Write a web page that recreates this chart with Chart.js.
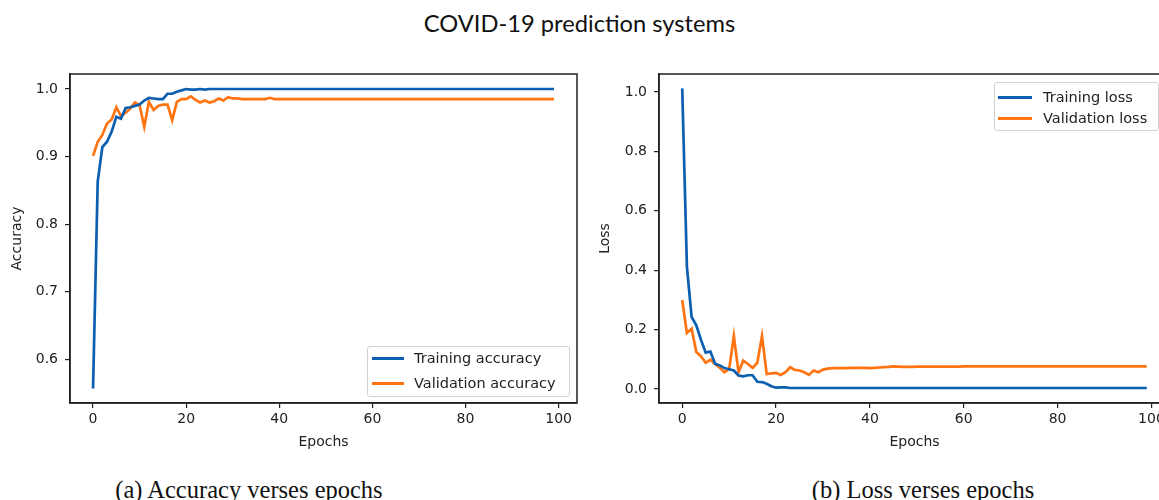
<!DOCTYPE html>
<html>
<head>
<meta charset="utf-8">
<title>COVID-19 prediction systems</title>
<script src="https://cdn.jsdelivr.net/npm/chart.js@4.4.1/dist/chart.umd.min.js"></script>
<style>
  html, body { margin: 0; padding: 0; background: #fff; overflow: hidden; }
  #page { position: relative; width: 1159px; height: 500px; overflow: hidden; }
  .title { position: absolute; left: 0; top: 9px; width: 1159px; text-align: center;
           font-family: Lato, "DejaVu Sans", sans-serif; font-size: 23.7px; line-height: 28px; color: #111; }
  .caption { position: absolute; top: 476px; transform: translateX(-50%); white-space: nowrap;
             font-family: "Liberation Serif", serif; font-size: 24.5px; line-height: 28px; color: #111; }
  .plot { position: absolute; top: 0; }
  .legend { position: absolute; box-sizing: border-box; border: 1px solid #d2d2d2; border-radius: 3px;
            background: rgba(255, 255, 255, 0.85); font-family: "DejaVu Sans", sans-serif;
            font-size: 14.5px; color: #222; }
  .legend .row { position: absolute; left: 0; right: 0; height: 18px; line-height: 18px; white-space: nowrap; }
  .legend .swatch { position: absolute; top: 8px; height: 2.6px; }
  .legend .label { position: absolute; top: 0; }
</style>
</head>
<body>
<div id="page">
  <div class="title">COVID-19 prediction systems</div>

  <canvas id="accChart" class="plot" width="600" height="460" style="left:0px"></canvas>
  <canvas id="lossChart" class="plot" width="600" height="460" style="left:590px"></canvas>

  <div id="accLegend" class="legend" style="left:367px; top:346px; width:203px; height:51px"></div>
  <div id="lossLegend" class="legend" style="left:994px; top:82px; width:165px; height:49px"></div>

  <div class="caption" style="left:249px">(a) Accuracy verses epochs</div>
  <div class="caption" style="left:923px">(b) Loss verses epochs</div>
</div>

<script>
// values, one per epoch (0..99)
const trainAcc = [
  0.557, 0.863, 0.914, 0.922, 0.937, 0.959, 0.956, 0.972, 0.973, 0.975,
  0.977, 0.983, 0.987, 0.986, 0.985, 0.985, 0.993, 0.993, 0.996, 0.998,
  1.000, 0.999, 0.999, 1.000, 0.999, 1.000, 1.000, 1.000, 1.000, 1.000,
  1.000, 1.000, 1.000, 1.000, 1.000, 1.000, 1.000, 1.000, 1.000, 1.000,
  1.000, 1.000, 1.000, 1.000, 1.000, 1.000, 1.000, 1.000, 1.000, 1.000,
  1.000, 1.000, 1.000, 1.000, 1.000, 1.000, 1.000, 1.000, 1.000, 1.000,
  1.000, 1.000, 1.000, 1.000, 1.000, 1.000, 1.000, 1.000, 1.000, 1.000,
  1.000, 1.000, 1.000, 1.000, 1.000, 1.000, 1.000, 1.000, 1.000, 1.000,
  1.000, 1.000, 1.000, 1.000, 1.000, 1.000, 1.000, 1.000, 1.000, 1.000,
  1.000, 1.000, 1.000, 1.000, 1.000, 1.000, 1.000, 1.000, 1.000, 1.000
];
const valAcc = [
  0.901, 0.922, 0.932, 0.949, 0.955, 0.973, 0.960, 0.965, 0.971, 0.980,
  0.976, 0.944, 0.981, 0.969, 0.975, 0.977, 0.977, 0.954, 0.981, 0.985,
  0.985, 0.989, 0.984, 0.980, 0.983, 0.980, 0.982, 0.986, 0.983, 0.988,
  0.986, 0.986, 0.985, 0.985, 0.985, 0.985, 0.985, 0.985, 0.987, 0.985,
  0.985, 0.985, 0.985, 0.985, 0.985, 0.985, 0.985, 0.985, 0.985, 0.985,
  0.985, 0.985, 0.985, 0.985, 0.985, 0.985, 0.985, 0.985, 0.985, 0.985,
  0.985, 0.985, 0.985, 0.985, 0.985, 0.985, 0.985, 0.985, 0.985, 0.985,
  0.985, 0.985, 0.985, 0.985, 0.985, 0.985, 0.985, 0.985, 0.985, 0.985,
  0.985, 0.985, 0.985, 0.985, 0.985, 0.985, 0.985, 0.985, 0.985, 0.985,
  0.985, 0.985, 0.985, 0.985, 0.985, 0.985, 0.985, 0.985, 0.985, 0.985
];
const trainLoss = [
  1.012, 0.411, 0.242, 0.214, 0.165, 0.122, 0.126, 0.085, 0.079, 0.070,
  0.066, 0.062, 0.045, 0.042, 0.046, 0.046, 0.024, 0.023, 0.017, 0.009,
  0.004, 0.005, 0.005, 0.003, 0.003, 0.003, 0.003, 0.003, 0.003, 0.003,
  0.003, 0.003, 0.003, 0.003, 0.003, 0.003, 0.003, 0.003, 0.003, 0.003,
  0.003, 0.003, 0.003, 0.003, 0.003, 0.003, 0.003, 0.003, 0.003, 0.003,
  0.003, 0.003, 0.003, 0.003, 0.003, 0.003, 0.003, 0.003, 0.003, 0.003,
  0.003, 0.003, 0.003, 0.003, 0.003, 0.003, 0.003, 0.003, 0.003, 0.003,
  0.003, 0.003, 0.003, 0.003, 0.003, 0.003, 0.003, 0.003, 0.003, 0.003,
  0.003, 0.003, 0.003, 0.003, 0.003, 0.003, 0.003, 0.003, 0.003, 0.003,
  0.003, 0.003, 0.003, 0.003, 0.003, 0.003, 0.003, 0.003, 0.003, 0.003
];
const valLoss = [
  0.299, 0.188, 0.203, 0.124, 0.110, 0.088, 0.098, 0.084, 0.071, 0.056,
  0.067, 0.178, 0.056, 0.095, 0.084, 0.071, 0.088, 0.178, 0.050, 0.052,
  0.054, 0.047, 0.056, 0.073, 0.064, 0.062, 0.056, 0.047, 0.062, 0.056,
  0.065, 0.068, 0.070, 0.070, 0.070, 0.070, 0.071, 0.071, 0.071, 0.071,
  0.070, 0.071, 0.072, 0.073, 0.074, 0.076, 0.075, 0.074, 0.074, 0.074,
  0.075, 0.075, 0.075, 0.075, 0.075, 0.075, 0.075, 0.075, 0.075, 0.075,
  0.076, 0.076, 0.076, 0.076, 0.076, 0.076, 0.076, 0.076, 0.076, 0.076,
  0.076, 0.076, 0.076, 0.076, 0.076, 0.076, 0.076, 0.076, 0.076, 0.076,
  0.076, 0.076, 0.076, 0.076, 0.076, 0.076, 0.076, 0.076, 0.076, 0.076,
  0.076, 0.076, 0.076, 0.076, 0.076, 0.076, 0.076, 0.076, 0.076, 0.076
];

const epochs = trainAcc.map((_, i) => i);
const epochTicks = [0, 20, 40, 60, 80, 100];
const accTicks = [0.6, 0.7, 0.8, 0.9, 1.0];
const lossTicks = [0.0, 0.2, 0.4, 0.6, 0.8, 1.0];

const BLUE = '#0b5fb0';
const ORANGE = '#ff7410';
const INK = '#222';
const FONT = { family: 'DejaVu Sans', size: 14 };

// matplotlib draws a full box round the axes
const frame = {
  id: 'frame',
  afterDatasetsDraw(chart) {
    const { ctx, chartArea: a } = chart;
    ctx.save();
    ctx.strokeStyle = INK;
    ctx.lineWidth = 1.5;
    ctx.strokeRect(a.left, a.top, a.right - a.left, a.bottom - a.top);
    ctx.restore();
  }
};

function series(label, values, color) {
  return {
    label: label,
    data: values.map((v, i) => ({ x: epochs[i], y: v })),
    borderColor: color,
    backgroundColor: color,
    borderWidth: 2.7,
    pointRadius: 0,
    tension: 0,
    fill: false,
  };
}

function tickMarks() {
  return { display: true, drawOnChartArea: false, drawTicks: true, tickLength: 5, color: INK, lineWidth: 1.2 };
}

function makeChart(id, datasets, yTitle, yTicks, yMin, yMax, pad, yWidth) {
  const ctx = document.getElementById(id).getContext('2d');
  return new Chart(ctx, {
    type: 'line',
    data: { datasets: datasets },
    options: {
      responsive: false,
      animation: false,
      layout: { padding: pad },
      plugins: { legend: { display: false }, tooltip: { enabled: false } },
      scales: {
        x: {
          type: 'linear',
          min: -4.95,
          max: 103.95,
          afterBuildTicks: (s) => { s.ticks = epochTicks.map((v) => ({ value: v })); },
          afterFit: (s) => { s.height = 51; },
          grid: tickMarks(),
          border: { display: true, color: INK, width: 1.5 },
          ticks: { color: INK, font: FONT, padding: 3, maxRotation: 0, autoSkip: false, callback: (v) => String(v) },
          title: { display: true, text: 'Epochs', color: INK, font: FONT, padding: { top: 4, bottom: 3 } },
        },
        y: {
          type: 'linear',
          min: yMin,
          max: yMax,
          afterBuildTicks: (s) => { s.ticks = yTicks.map((v) => ({ value: v })); },
          afterFit: (s) => { s.width = yWidth; },
          grid: tickMarks(),
          border: { display: true, color: INK, width: 1.5 },
          ticks: { color: INK, font: FONT, padding: 7, autoSkip: false, callback: (v) => Number(v).toFixed(1) },
          title: { display: true, text: yTitle, color: INK, font: FONT, padding: { top: 3, bottom: 4 } },
        },
      },
    },
    plugins: [frame],
  });
}

function htmlLegend(chart, boxId, swatchLeft, swatchWidth, textLeft, rowTops) {
  const box = document.getElementById(boxId);
  chart.data.datasets.forEach((ds, i) => {
    const row = document.createElement('div');
    row.className = 'row';
    row.style.top = rowTops[i] + 'px';
    const sw = document.createElement('span');
    sw.className = 'swatch';
    sw.style.left = swatchLeft + 'px';
    sw.style.width = swatchWidth + 'px';
    sw.style.background = ds.borderColor;
    const tx = document.createElement('span');
    tx.className = 'label';
    tx.style.left = textLeft + 'px';
    tx.textContent = ds.label;
    row.appendChild(sw);
    row.appendChild(tx);
    box.appendChild(row);
  });
}

const accChart = makeChart(
  'accChart',
  [series('Training accuracy', trainAcc, BLUE), series('Validation accuracy', valAcc, ORANGE)],
  'Accuracy', accTicks, 0.5355, 1.0222,
  { top: 74, right: 23, left: 6, bottom: 6 }, 64
);

const lossChart = makeChart(
  'lossChart',
  [series('Training loss', trainLoss, BLUE), series('Validation loss', valLoss, ORANGE)],
  'Loss', lossTicks, -0.0475, 1.0605,
  { top: 74, right: 20, left: 4, bottom: 6 }, 65
);

htmlLegend(accChart, 'accLegend', 4, 32, 46, [2, 27]);
htmlLegend(lossChart, 'lossLegend', 3, 34, 48, [5, 26]);
</script>
</body>
</html>
